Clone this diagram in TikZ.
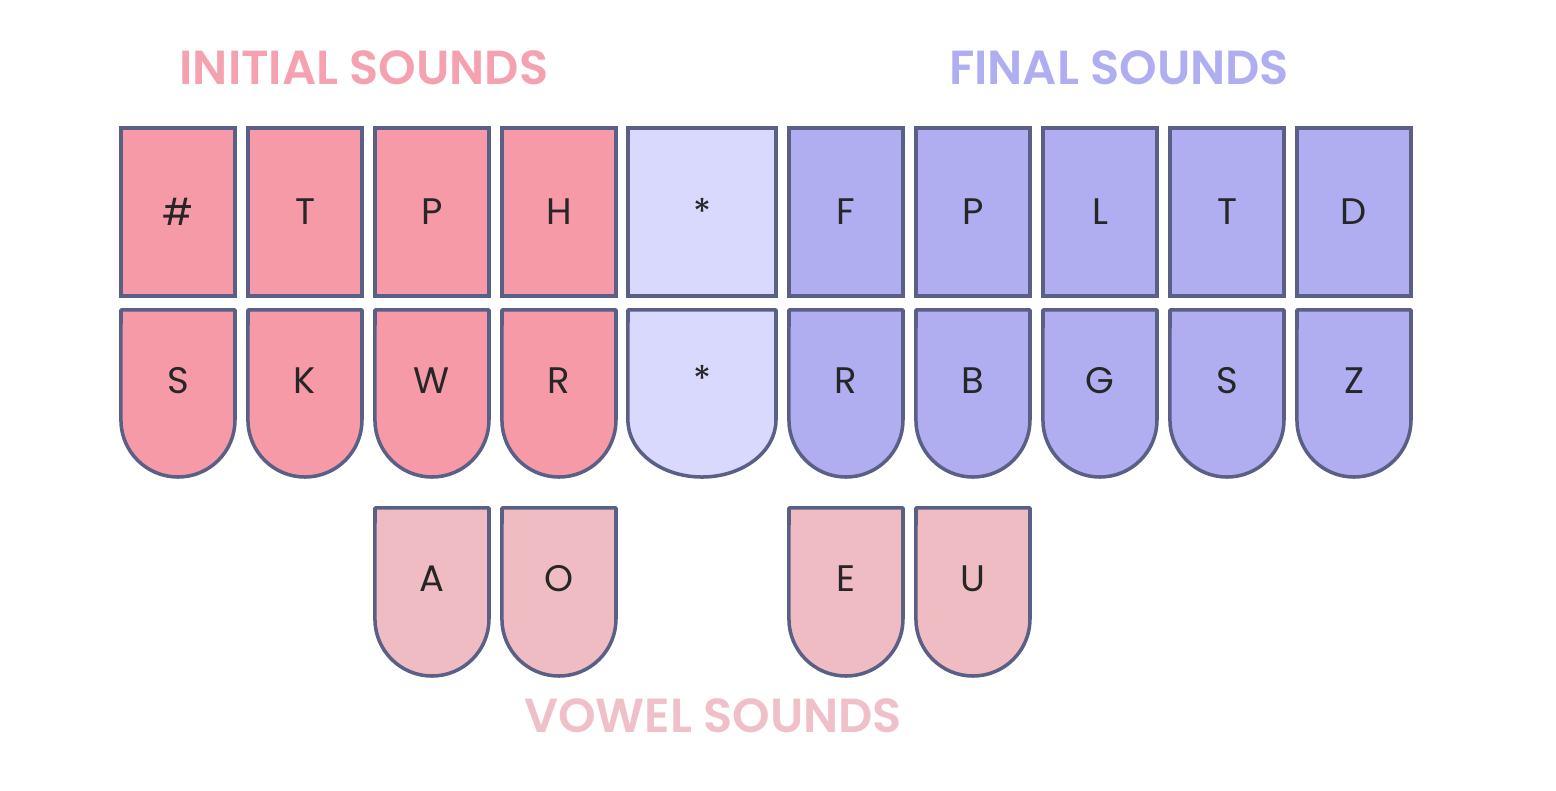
\documentclass[tikz,border=0pt]{standalone}
\usepackage{fontspec}
\setmainfont{Poppins}
\newfontfamily\headfont{Poppins SemiBold}
\usetikzlibrary{calc}
\definecolor{cinit}{HTML}{F69AA8}
\definecolor{cinittext}{HTML}{F5A2B0}
\definecolor{cfinal}{HTML}{B0AEF0}
\definecolor{cfinaltext}{HTML}{AFAEF0}
\definecolor{cstar}{HTML}{D8D9FC}
\definecolor{cvowel}{HTML}{EFBCC4}
\definecolor{cvoweltext}{HTML}{F0C0C9}
\definecolor{cedge}{HTML}{5A5F85}

\begin{document}
\begin{tikzpicture}[
  x=0.01cm, y=0.01cm,
  topkey/.style={
    rectangle, draw=cedge, line width=1pt,
    minimum width=1.14cm, minimum height=1.68cm, inner sep=0pt
  },
  keyline/.style={
    draw=cedge, line width=1pt, line join=round
  },
  keytext/.style={
    font=\fontsize{10.5}{12}\selectfont, text=black!85
  },
  headtext/.style={
    font=\headfont\fontsize{13.6}{16}\selectfont, anchor=center
  }
]
\useasboundingbox (0,0) rectangle (1556,791);

% ============================================================
% Headings
% ============================================================
\node[headtext, cinittext] (inithead) at (364,723) {INITIAL SOUNDS};
\node[headtext, cfinaltext] (finalhead) at (1119,723) {FINAL SOUNDS};
\node[headtext, cvoweltext] (vowelhead) at (713,75) {VOWEL SOUNDS};

% ============================================================
% Top row: square keys
% ============================================================
\foreach \i/\xp/\lab in {1/178/\#, 2/305/T, 3/432/P, 4/559/H} {
  \node[topkey, fill=cinit, keytext] (t\i) at (\xp,579) {\lab};
}
\node[topkey, fill=cstar, keytext, minimum width=1.48cm] (tstar) at (702,579) {*};
\foreach \i/\xp/\lab in {5/846/F, 6/973/P, 7/1100/L, 8/1227/T, 9/1354/D} {
  \node[topkey, fill=cfinal, keytext] (t\i) at (\xp,579) {\lab};
}

% ============================================================
% Bottom row: rounded keys (shape first, letter on top)
% ============================================================
\foreach \i/\xp/\lab/\col in {1/178/S/cinit, 2/305/K/cinit, 3/432/W/cinit,
    4/559/R/cinit, 5/846/R/cfinal, 6/973/B/cfinal, 7/1100/G/cfinal,
    8/1227/S/cfinal, 9/1354/Z/cfinal} {
  \draw[keyline, fill=\col] (\xp-57,481) -- (\xp+57,481) -- (\xp+57,371)
    arc[start angle=0, end angle=-180, radius=0.57cm] -- cycle;
  \node[keytext] (b\i) at (\xp,410) {\lab};
}
\draw[keyline, fill=cstar] (628,481) -- (776,481) -- (776,371)
  arc[start angle=0, end angle=-180, x radius=0.74cm, y radius=0.57cm] -- cycle;
\node[keytext] (bstar) at (702,412) {*};

% ============================================================
% Vowel keys
% ============================================================
\foreach \nm/\xp/\lab in {va/432/A, vo/559/O, ve/846/E, vu/973/U} {
  \draw[keyline, fill=cvowel] (\xp-57,283) -- (\xp+57,283) -- (\xp+57,172)
    arc[start angle=0, end angle=-180, radius=0.57cm] -- cycle;
  \node[keytext] (\nm) at (\xp,212) {\lab};
}

\end{tikzpicture}
\end{document}
